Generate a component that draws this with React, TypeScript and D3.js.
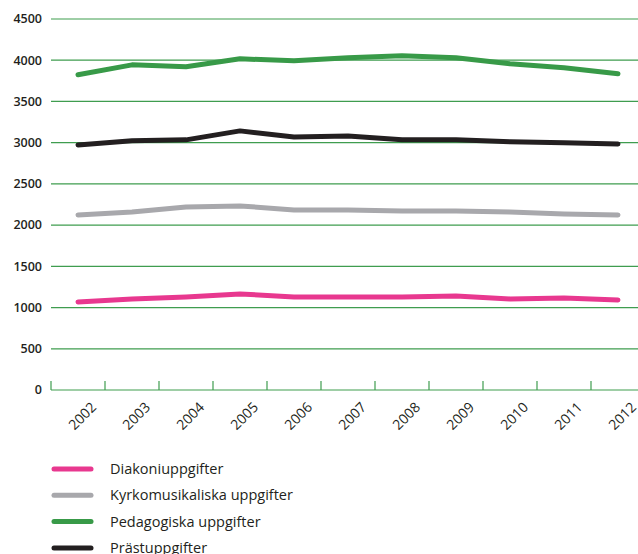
import React from "react";
import * as d3 from "d3";

const years = ["2002", "2003", "2004", "2005", "2006", "2007", "2008", "2009", "2010", "2011", "2012"];
const yTicks = [0, 500, 1000, 1500, 2000, 2500, 3000, 3500, 4000, 4500];

const diakoni = [1068, 1104, 1129, 1165, 1129, 1129, 1129, 1141, 1104, 1117, 1092];
const kyrkomusik = [2124, 2160, 2221, 2233, 2184, 2184, 2172, 2172, 2160, 2136, 2124];
const pedagogik = [3823, 3944, 3920, 4017, 3993, 4030, 4053, 4030, 3956, 3908, 3835];
const prast = [2973, 3022, 3034, 3143, 3070, 3082, 3034, 3034, 3010, 2998, 2985];

const seriesNames = ["Diakoniuppgifter", "Kyrkomusikaliska uppgifter", "Pedagogiska uppgifter", "Prästuppgifter"];
const seriesColors = ["#e8388f", "#a8a8ac", "#389a48", "#231f20"];

const App: React.FC = () => {
  const width = 638;
  const height = 554;
  const font = "'Open Sans', sans-serif";

  const x = d3.scaleBand<string>().domain(years).range([51, 645]);
  const y = d3.scaleLinear().domain([0, 4500]).range([390, 19]);

  const allSeries = [diakoni, kyrkomusik, pedagogik, prast];
  const line = d3
    .line<number>()
    .x((_, i) => x(years[i])! + x.bandwidth() / 2)
    .y((d) => y(d));

  return (
    <svg
      width={width}
      height={height}
      style={{ position: "absolute", left: 0, top: 0, background: "#fff" }}
    >
      {/* gridlines */}
      {yTicks.map((t) => (
        <g key={t}>
          <line x1={51} x2={width} y1={y(t)} y2={y(t)} stroke="#3f9d4f" strokeWidth={1.2} />
          <text
            x={42}
            y={y(t)}
            dy="0.35em"
            textAnchor="end"
            fontFamily={font}
            fontSize={12.5}
            fontWeight={600}
            fill="#231f20"
          >
            {t}
          </text>
        </g>
      ))}

      {/* x ticks at band edges */}
      {years.map((yr) => (
        <line
          key={yr}
          x1={x(yr)!}
          x2={x(yr)!}
          y1={y(0) - 9}
          y2={y(0)}
          stroke="#3f9d4f"
          strokeWidth={1.2}
        />
      ))}

      {/* x labels */}
      {years.map((yr) => {
        const cx = x(yr)! + x.bandwidth() / 2 + 12;
        const cy = 401;
        return (
          <text
            key={yr}
            transform={`translate(${cx},${cy}) rotate(-45)`}
            textAnchor="end"
            dy="0.72em"
            fontFamily={font}
            fontSize={14}
            fill="#231f20"
          >
            {yr}
          </text>
        );
      })}

      {/* lines */}
      {allSeries.map((s, i) => (
        <path
          key={seriesNames[i]}
          d={line(s) ?? ""}
          fill="none"
          stroke={seriesColors[i]}
          strokeWidth={5}
          strokeLinecap="round"
          strokeLinejoin="round"
        />
      ))}

      {/* legend */}
      {seriesNames.map((name, i) => {
        const ly = 469 + i * 26.3;
        return (
          <g key={name}>
            <line
              x1={54}
              x2={91}
              y1={ly}
              y2={ly}
              stroke={seriesColors[i]}
              strokeWidth={5}
              strokeLinecap="round"
            />
            <text
              x={110}
              y={ly}
              dy="0.35em"
              fontFamily={font}
              fontSize={14.5}
              fontWeight={500}
              fill="#231f20"
            >
              {name}
            </text>
          </g>
        );
      })}
    </svg>
  );
};

export default App;
